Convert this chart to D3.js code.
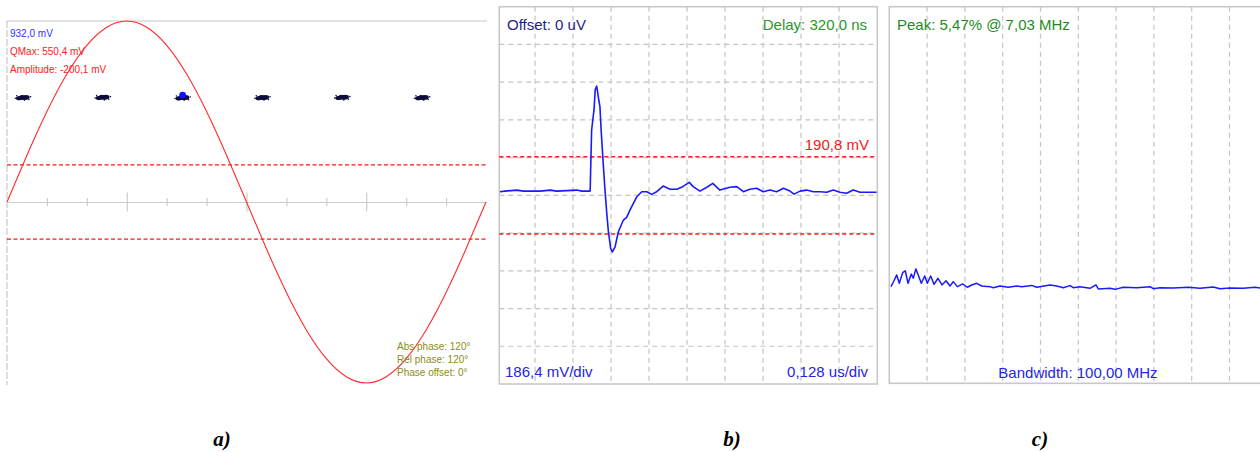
<!DOCTYPE html>
<html>
<head>
<meta charset="utf-8">
<script src="https://cdn.jsdelivr.net/npm/d3@7"></script>
<style>
  html, body { margin: 0; padding: 0; background: #fff; }
  svg { display: block; font-family: "Liberation Sans", Arial, sans-serif; }
</style>
</head>
<body>
<svg id="fig" width="1260" height="452"></svg>
<script>
// ---------- a) phase view: reference sine and sampled phase markers ----------
const phaseDeg = [0, 15, 30, 45, 60, 75, 90, 105, 120, 135, 150, 165, 180,
                  195, 210, 225, 240, 255, 270, 285, 300, 315, 330, 345, 360];
const phaseMv  = [0, 241, 466, 659, 807, 900, 932, 900, 807, 659, 466, 241, 0,
                  -241, -466, -659, -807, -900, -932, -900, -807, -659, -466, -241, 0];
const markerDeg = [12, 72, 132, 192, 252, 312];
const markerMv  = [537, 538, 536, 537, 538, 537];
const activeMarker = 2;          // index of the highlighted marker
const qMaxMv = 550.4;
const thresholdMv = 190.8;
const fullScaleMv = 932.0;
const phaseLabels = ["Abs phase: 120°", "Rel phase: 120°", "Phase offset: 0°"];

// ---------- b) time-domain pulse ----------
const pulseUs = [0.002, 0.019, 0.059, 0.081, 0.137, 0.171, 0.193, 0.261, 0.278, 0.306,
                 0.311, 0.319, 0.323, 0.328, 0.331, 0.335, 0.339, 0.343, 0.350, 0.356,
                 0.362, 0.367, 0.375, 0.381, 0.390, 0.401, 0.418, 0.429, 0.440, 0.463,
                 0.480, 0.497, 0.513, 0.530, 0.552, 0.575, 0.598, 0.618, 0.640, 0.653,
                 0.676, 0.699, 0.719, 0.743, 0.777, 0.800, 0.822, 0.844, 0.867, 0.889,
                 0.912, 0.934, 0.957, 0.979, 0.993, 1.013, 1.035, 1.058, 1.080, 1.103,
                 1.125, 1.147, 1.170, 1.192, 1.215, 1.271];
const pulseMv = [18, 21, 26, 21, 21, 26, 21, 26, 21, 21,
                 323, 422, 521, 540, 512, 471, 438, 323, 158, 26,
                 -89, -172, -262, -279, -254, -180, -122, -109, -73, -7,
                 18, 18, 5, 18, 46, 30, 30, 43, 64, 43,
                 21, 40, 59, 26, 40, 43, 18, 30, 35, 18,
                 26, 18, 35, 21, 6, 21, 26, 18, 18, 15,
                 26, 15, 10, 26, 15, 15];
const mvPerDiv = 186.4;
const usPerDiv = 0.128;

// ---------- c) spectrum ----------
const specMHz = [0.45, 1.24, 1.96, 2.65, 3.54, 4.23, 4.95, 5.82, 6.35, 7.03,
                 8.47, 9.37, 10.05, 10.95, 11.83, 12.88, 13.94, 15.0, 16.06, 16.93,
                 17.99, 19.42, 20.63, 21.8, 23.12, 24.44, 26.64, 27.51, 29.29, 31.48,
                 33.7, 35.03, 37.67, 39.0, 42.51, 44.29, 46.03, 47.8, 48.68, 50.45,
                 53.1, 54.68, 55.29, 58.39, 59.71, 61.9, 65.45, 68.97, 69.84, 71.61,
                 75.13, 79.1, 82.2, 85.7, 87.49, 90.13, 93.65, 96.75, 98.08];
const specPct = [4.62, 4.90, 5.18, 4.78, 5.29, 5.38, 4.78, 5.22, 5.02, 5.47,
                 4.78, 5.13, 4.78, 5.13, 4.73, 5.02, 4.70, 4.90, 4.65, 4.86,
                 4.62, 4.75, 4.59, 4.70, 4.78, 4.65, 4.62, 4.57, 4.65, 4.59,
                 4.65, 4.62, 4.68, 4.59, 4.70, 4.65, 4.57, 4.67, 4.57, 4.62,
                 4.54, 4.70, 4.51, 4.54, 4.49, 4.59, 4.57, 4.62, 4.52, 4.57,
                 4.56, 4.59, 4.54, 4.60, 4.52, 4.56, 4.54, 4.59, 4.56];
const freqGridMHz = [10, 20, 30, 40, 50, 60, 70, 80, 90];
const captions = ["a)", "b)", "c)"];

const svg = d3.select("#fig");
const fmt = d3.formatLocale({ decimal: ",", thousands: ".", grouping: [3], currency: ["", ""] });
const f1 = fmt.format(".1f");

// ======================= panel a =======================
const A = { x0: 7, x1: 486, y0: 21, y1: 383 };
const xA = d3.scaleLinear().domain([0, 360]).range([A.x0, A.x1]);
const yA = d3.scaleLinear().domain([-fullScaleMv, fullScaleMv]).range([A.y1, A.y0]);
const gA = svg.append("g");

gA.append("line").attr("x1", A.x0).attr("x2", A.x1 + 1).attr("y1", A.y0).attr("y2", A.y0)
  .attr("stroke", "#c8c8c8").attr("stroke-width", 1.2);
gA.append("line").attr("x1", A.x0).attr("x2", A.x0).attr("y1", A.y0).attr("y2", A.y1 + 2)
  .attr("stroke", "#c8c8c8").attr("stroke-width", 1.2).attr("stroke-dasharray", "7,2");

// zero axis with centred ticks, long every 90°
const axA = gA.append("g").attr("transform", `translate(0,${yA(0)})`)
  .call(d3.axisBottom(xA).tickValues(d3.range(30, 360, 30)).tickSize(0).tickFormat(""));
axA.select(".domain").attr("stroke", "#cccccc").attr("stroke-width", 1.2);
axA.selectAll(".tick line")
  .attr("stroke", "#cccccc").attr("stroke-width", 1.2)
  .attr("y1", d => d % 90 === 0 ? -9.5 : -4)
  .attr("y2", d => d % 90 === 0 ? 9.5 : 4);

// threshold lines
gA.selectAll(".thrA").data([thresholdMv, -thresholdMv]).join("line")
  .attr("x1", A.x0).attr("x2", A.x1 + 1)
  .attr("y1", d => yA(d)).attr("y2", d => yA(d))
  .attr("stroke", "#ee1c1c").attr("stroke-width", 1.2).attr("stroke-dasharray", "4,2.5");

// sine trace
gA.append("path")
  .datum(phaseDeg.map((d, i) => [d, phaseMv[i]]))
  .attr("fill", "none").attr("stroke", "#ff2a2a").attr("stroke-width", 1.1)
  .attr("d", d3.line().x(d => xA(d[0])).y(d => yA(d[1])).curve(d3.curveNatural));

// phase marker clusters
const blob = [[0, 0, 6, 2.2], [-4, 0.6, 3, 2], [3, -0.4, 3.6, 2.4], [-1, -1.2, 2.5, 1.6]];
const dots = [[-7.6, 0.6], [7.6, -0.9], [-6.2, -1.9], [6, 1.8], [1.5, 2.4]];
const mk = gA.selectAll(".marker").data(markerDeg.map((d, i) => [d, markerMv[i]])).join("g")
  .attr("transform", d => `translate(${xA(d[0])},${yA(d[1])})`)
  .attr("fill", "#0c0c3e");
mk.selectAll("ellipse").data(blob).join("ellipse")
  .attr("cx", b => b[0]).attr("cy", b => b[1]).attr("rx", b => b[2]).attr("ry", b => b[3]);
mk.selectAll("circle").data(dots).join("circle")
  .attr("cx", b => b[0]).attr("cy", b => b[1]).attr("r", 0.8);
gA.append("circle")
  .attr("cx", xA(markerDeg[activeMarker])).attr("cy", yA(qMaxMv)).attr("r", 3.4)
  .attr("fill", "#1010ff");

// text
const tA = gA.append("g").attr("font-size", 10);
tA.append("text").attr("x", 10).attr("y", 37).attr("fill", "#3030ff").text(f1(fullScaleMv) + " mV");
tA.append("text").attr("x", 10).attr("y", 55).attr("fill", "#ff2020").text("QMax: " + f1(qMaxMv) + " mV");
tA.append("text").attr("x", 10).attr("y", 73).attr("fill", "#ff2020").text("Amplitude: -200,1 mV");
tA.selectAll(".ph").data(phaseLabels).join("text")
  .attr("x", 397).attr("y", (d, i) => 350 + i * 13.2).attr("fill", "#8c8c1a").text(d => d);

// ======================= panel b =======================
const B = { x0: 499.3, x1: 877.3, y0: 6.7, y1: 384 };
const xB = d3.scaleLinear().domain([0, (B.x1 - B.x0) / 38 * usPerDiv]).range([B.x0, B.x1]);
const yB = d3.scaleLinear().domain([-5 * mvPerDiv, 5 * mvPerDiv]).range([B.y1, B.y0]);
const gB = svg.append("g");
const gridStyle = sel => sel.attr("stroke", "#c4c4c4").attr("stroke-width", 1.2).attr("stroke-dasharray", "5,4");

gB.selectAll(".vgB").data(d3.range(9).map(k => 0.1203 + k * usPerDiv)).join("line")
  .attr("x1", d => xB(d)).attr("x2", d => xB(d)).attr("y1", B.y0).attr("y2", B.y1).call(gridStyle);
gB.selectAll(".hgB").data(d3.range(-4, 5).map(k => k * mvPerDiv)).join("line")
  .attr("x1", B.x0).attr("x2", B.x1).attr("y1", d => yB(d)).attr("y2", d => yB(d)).call(gridStyle);
gB.append("rect").attr("x", B.x0).attr("y", B.y0).attr("width", B.x1 - B.x0).attr("height", B.y1 - B.y0)
  .attr("fill", "none").attr("stroke", "#c8c8c8").attr("stroke-width", 1.6);

gB.selectAll(".thrB").data([thresholdMv, -thresholdMv]).join("line")
  .attr("x1", B.x0).attr("x2", B.x1).attr("y1", d => yB(d)).attr("y2", d => yB(d))
  .attr("stroke", "#ee2020").attr("stroke-width", 1.5).attr("stroke-dasharray", "4,3");

gB.append("path")
  .datum(pulseUs.map((d, i) => [d, pulseMv[i]]))
  .attr("fill", "none").attr("stroke", "#1a1aff").attr("stroke-width", 1.6)
  .attr("stroke-linejoin", "round")
  .attr("d", d3.line().x(d => xB(d[0])).y(d => yB(d[1])));

const tB = gB.append("g").attr("font-size", 15);
tB.append("text").attr("x", 507).attr("y", 29.5).attr("fill", "#1e1e86").text("Offset: 0 uV");
tB.append("text").attr("x", 867).attr("y", 29.5).attr("text-anchor", "end").attr("fill", "#2a962a").text("Delay: 320,0 ns");
tB.append("text").attr("x", 869).attr("y", 150).attr("text-anchor", "end").attr("fill", "#ee2020").text(f1(thresholdMv) + " mV");
tB.append("text").attr("x", 505).attr("y", 377).attr("fill", "#2424e8").text(f1(mvPerDiv) + " mV/div");
tB.append("text").attr("x", 868).attr("y", 377).attr("text-anchor", "end").attr("fill", "#2424e8").text("0,128 us/div");

// ======================= panel c =======================
const C = { x0: 889.3, x1: 1267.3, y0: 6.7, y1: 383.3 };
const xC = d3.scaleLinear().domain([0, 100]).range([C.x0, C.x1]);
const yC = d3.scaleLinear().domain([0, 18]).range([C.y1, C.y0]);
const gC = svg.append("g");

gC.selectAll(".vgC").data(freqGridMHz).join("line")
  .attr("x1", d => xC(d)).attr("x2", d => xC(d)).attr("y1", C.y0).attr("y2", C.y1).call(gridStyle);
gC.append("rect").attr("x", C.x0).attr("y", C.y0).attr("width", C.x1 - C.x0).attr("height", C.y1 - C.y0)
  .attr("fill", "none").attr("stroke", "#c8c8c8").attr("stroke-width", 1.6);

gC.append("path")
  .datum(specMHz.map((d, i) => [d, specPct[i]]))
  .attr("fill", "none").attr("stroke", "#1a1aff").attr("stroke-width", 1.5)
  .attr("stroke-linejoin", "round")
  .attr("d", d3.line().x(d => xC(d[0])).y(d => yC(d[1])));

const iPeak = d3.maxIndex(specPct);
const f2 = fmt.format(".2f");
const tC = gC.append("g").attr("font-size", 15);
tC.append("text").attr("x", 897).attr("y", 30).attr("fill", "#1e8c1e")
  .text(`Peak: ${f2(specPct[iPeak])}% @ ${f2(specMHz[iPeak])} MHz`);
tC.append("text").attr("x", 1078).attr("y", 378).attr("text-anchor", "middle").attr("fill", "#2424e8")
  .text("Bandwidth: 100,00 MHz");

// ======================= captions =======================
svg.selectAll(".cap").data(captions).join("text")
  .attr("x", (d, i) => [222, 732, 1040][i]).attr("y", 446)
  .attr("text-anchor", "middle")
  .attr("font-family", "'Liberation Serif', 'Times New Roman', serif")
  .attr("font-style", "italic").attr("font-weight", "bold").attr("font-size", 21)
  .text(d => d);
</script>
</body>
</html>
